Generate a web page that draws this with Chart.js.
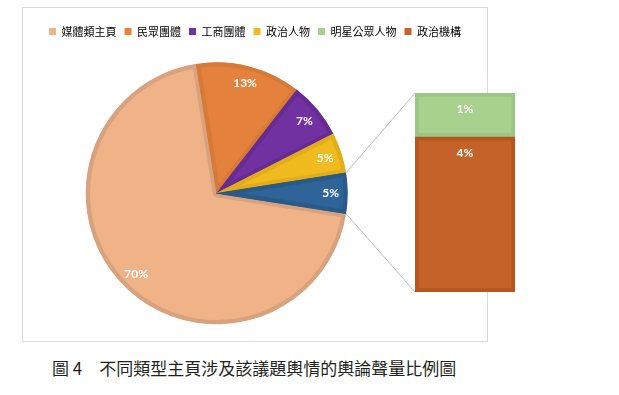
<!DOCTYPE html>
<html>
<head>
<meta charset="utf-8">
<script src="https://cdn.jsdelivr.net/npm/chart.js@4.4.0/dist/chart.umd.min.js"></script>
<style>
    body { margin: 0; background: #fff; width: 619px; height: 395px; position: relative; overflow: hidden; font-family: "Noto Sans CJK TC", sans-serif; }
    #frame { position: absolute; left: 22px; top: 7px; width: 466px; height: 335px; border: 1px solid #D9D9D9; box-sizing: border-box; }
    #pieChart { position: absolute; left: 22px; top: 7px; }
    #barChart { position: absolute; left: 405px; top: 88px; }
    #caption { position: absolute; left: 52px; top: 355px; font-size: 17px; color: #231F20; white-space: pre; }
</style>
</head>
<body>
<div id="frame"></div>
<canvas id="pieChart" width="466" height="335"></canvas>
<canvas id="barChart" width="120" height="210"></canvas>
<div id="caption">圖 4　不同類型主頁涉及該議題輿情的輿論聲量比例圖</div>

<script>
// data
const pieLabels = ["媒體類主頁", "民眾團體", "工商團體", "政治人物"];
const pieValues = [70, 13, 7, 5];
const barLabels = ["明星公眾人物", "政治機構"];   // top to bottom in the bar
const barValues = [1.1, 3.9];

const pieColors = ["#F0B387", "#E4823D", "#7131A1", "#EFBB1F", "#2E6497"];
const pieBorders = ["#D9A27F", "#D77A38", "#672C93", "#E2AD18", "#2A5A89"];
const barColors = ["#A9D18E", "#C5622A"];
const barBorders = ["#9BC683", "#B6551D"];

const otherValue = barValues.reduce((a, b) => a + b, 0);
const total = pieValues.reduce((a, b) => a + b, 0) + otherValue;
const pct = v => Math.round(v / total * 100) + "%";

Chart.defaults.font.family = "'Noto Sans CJK TC', sans-serif";

// BAR (the split-out part)
const barChart = new Chart(document.getElementById("barChart"), {
    type: "bar",
    data: {
        labels: [""],
        // first dataset sits at the bottom of the stack
        datasets: barLabels.map((l, i) => ({
            label: l,
            data: [barValues[i]],
            backgroundColor: barColors[i],
            borderColor: barBorders[i],
            borderWidth: 4,
            borderSkipped: false,
            barPercentage: 1,
            categoryPercentage: 1
        })).reverse()
    },
    options: {
        responsive: false,
        animation: false,
        layout: { padding: { left: 10, right: 10, top: 5, bottom: 6 } },
        scales: {
            x: { display: false, stacked: true },
            y: { display: false, stacked: true, min: 0, max: otherValue }
        },
        plugins: { legend: { display: false }, tooltip: { enabled: false } }
    },
    plugins: [{
        id: "barLabels",
        afterDatasetsDraw(chart) {
            const ctx = chart.ctx;
            ctx.save();
            ctx.fillStyle = "#fff";
            ctx.font = "bold 12px Lato";
            ctx.textAlign = "center";
            ctx.textBaseline = "middle";
            chart.data.datasets.forEach((ds, i) => {
                const el = chart.getDatasetMeta(i).data[0];
                ctx.fillText(pct(ds.data[0]), el.x, el.y + 16);
            });
            ctx.restore();
        }
    }]
});

// PIE
const pieCenter = { x: 194.7, y: 186.3, r: 131 };
const legendItems = pieLabels.map((t, i) => ({ text: t, fillStyle: pieColors[i], strokeStyle: pieColors[i], lineWidth: 0 }))
    .concat(barLabels.map((t, i) => ({ text: t, fillStyle: barColors[i], strokeStyle: barColors[i], lineWidth: 0 })));

new Chart(document.getElementById("pieChart"), {
    type: "pie",
    data: {
        labels: pieLabels.concat(["其他"]),
        datasets: [{
            data: pieValues.concat([otherValue]),
            backgroundColor: pieColors,
            borderColor: pieBorders,
            borderWidth: 4,
            borderAlign: "inner",
            radius: pieCenter.r,
            clip: false
        }]
    },
    options: {
        responsive: false,
        animation: false,
        rotation: 99,
        layout: { padding: { top: 11 } },
        plugins: {
            tooltip: { enabled: false },
            legend: {
                position: "top",
                onClick: null,
                labels: {
                    boxWidth: 7,
                    boxHeight: 7,
                    padding: 8,
                    color: "#595959",
                    font: { size: 11 },
                    generateLabels: () => legendItems
                }
            }
        }
    },
    plugins: [{
        id: "placePie",
        afterLayout(chart) {
            const a = chart.chartArea, c = pieCenter, m = c.r + 4;
            a.left = c.x - m; a.right = c.x + m; a.top = c.y - m; a.bottom = c.y + m;
            a.width = 2 * m; a.height = 2 * m;
        }
    }, {
        id: "pieLabels",
        afterDatasetsDraw(chart) {
            const ctx = chart.ctx;
            const ds = chart.data.datasets[0];
            ctx.save();
            ctx.fillStyle = "#fff";
            ctx.font = "bold 12px Lato";
            ctx.textAlign = "center";
            ctx.textBaseline = "middle";
            chart.getDatasetMeta(0).data.forEach((arc, i) => {
                const mid = (arc.startAngle + arc.endAngle) / 2;
                const r = arc.outerRadius * 0.87;
                ctx.fillText(pct(ds.data[i]), arc.x + r * Math.cos(mid), arc.y + r * Math.sin(mid));
            });
            ctx.restore();
        }
    }, {
        id: "connectors",
        afterDraw(chart) {
            const arcs = chart.getDatasetMeta(0).data;
            const arc = arcs[arcs.length - 1];
            const dx = 405 - 22, dy = 88 - 7;   // bar canvas offset inside pie canvas
            const topEl = barChart.getDatasetMeta(barChart.data.datasets.length - 1).data[0];
            const botEl = barChart.getDatasetMeta(0).data[0];
            const left = topEl.x - topEl.width / 2 + dx;
            const ctx = chart.ctx;
            ctx.save();
            ctx.strokeStyle = "#BFBFBF";
            ctx.lineWidth = 1;
            ctx.beginPath();
            ctx.moveTo(arc.x + arc.outerRadius * Math.cos(arc.startAngle), arc.y + arc.outerRadius * Math.sin(arc.startAngle));
            ctx.lineTo(left, topEl.y + dy);
            ctx.moveTo(arc.x + arc.outerRadius * Math.cos(arc.endAngle), arc.y + arc.outerRadius * Math.sin(arc.endAngle));
            ctx.lineTo(left, botEl.base + dy);
            ctx.stroke();
            ctx.restore();
        }
    }]
});
</script>
</body>
</html>
